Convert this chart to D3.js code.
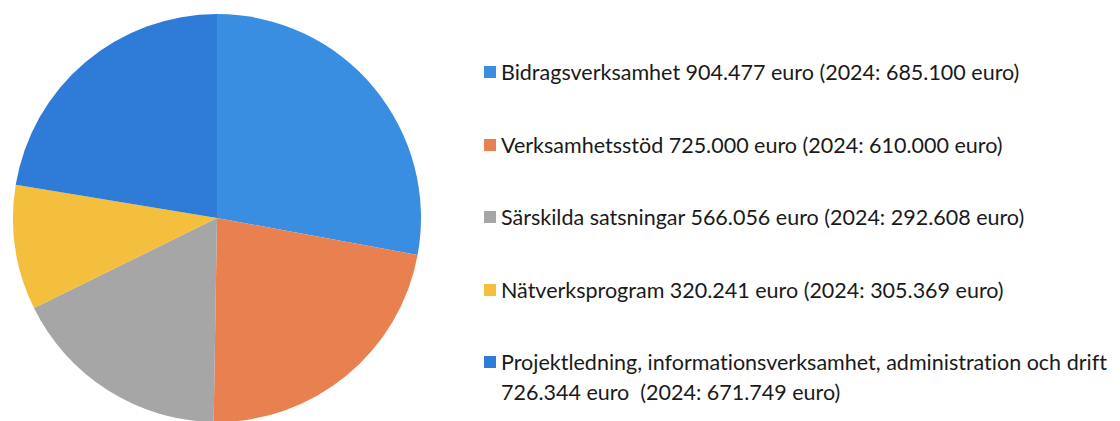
<!DOCTYPE html>
<html>
<head>
<meta charset="utf-8">
<script src="https://cdn.jsdelivr.net/npm/d3@7"></script>
<style>
  body { margin: 0; background: #fff; }
  svg { display: block; }
  text { font-variant-ligatures: none; }
</style>
</head>
<body>
<div class="main"></div>
<script>
// data
let categories = ['Bidragsverksamhet', 'Verksamhetsstöd', 'Särskilda satsningar', 'Nätverksprogram', 'Projektledning, informationsverksamhet, administration och drift'];
let values = [904477, 725000, 566056, 320241, 726344];
let labels = [
  ['Bidragsverksamhet 904.477 euro (2024: 685.100 euro)'],
  ['Verksamhetsstöd 725.000 euro (2024: 610.000 euro)'],
  ['Särskilda satsningar 566.056 euro (2024: 292.608 euro)'],
  ['Nätverksprogram 320.241 euro (2024: 305.369 euro)'],
  ['Projektledning, informationsverksamhet, administration och drift', '726.344 euro\u00a0\u00a0(2024: 671.749 euro)']
];
let colors = ['#3a8ee2', '#e8804f', '#a6a6a6', '#f4bf3c', '#2f7cd8'];

let opts = {
  width: 1120,
  height: 421,
  cx: 217,
  cy: 218,
  r: 204
};

let svg = d3.select('.main').append('svg')
  .attr('width', opts.width)
  .attr('height', opts.height);

let pie = d3.pie().sort(null).value(d => d);
let arc = d3.arc().innerRadius(0).outerRadius(opts.r);

svg.append('g')
  .attr('transform', `translate(${opts.cx},${opts.cy})`)
  .selectAll('path')
  .data(pie(values))
  .enter().append('path')
  .attr('d', arc)
  .attr('fill', (d, i) => colors[i]);

// legend
let rowY = [72, 145, 217, 290, 362];
let legend = svg.append('g').attr('class', 'legend');

let items = legend.selectAll('g.item')
  .data(categories)
  .enter().append('g')
  .attr('class', 'item')
  .attr('transform', (d, i) => `translate(484,${rowY[i]})`);

items.append('rect')
  .attr('x', 0)
  .attr('y', -6)
  .attr('width', 12)
  .attr('height', 12)
  .attr('fill', (d, i) => colors[i]);

items.each(function(d, i) {
  let g = d3.select(this);
  labels[i].forEach((line, j) => {
    g.append('text')
      .attr('x', 17)
      .attr('y', j * 30)
      .attr('dy', '0.35em')
      .attr('font-family', 'Lato, "Open Sans", sans-serif')
      .attr('font-size', 21.5)
      .attr('fill', '#1a1a1a')
      .text(line);
  });
});
</script>
</body>
</html>
